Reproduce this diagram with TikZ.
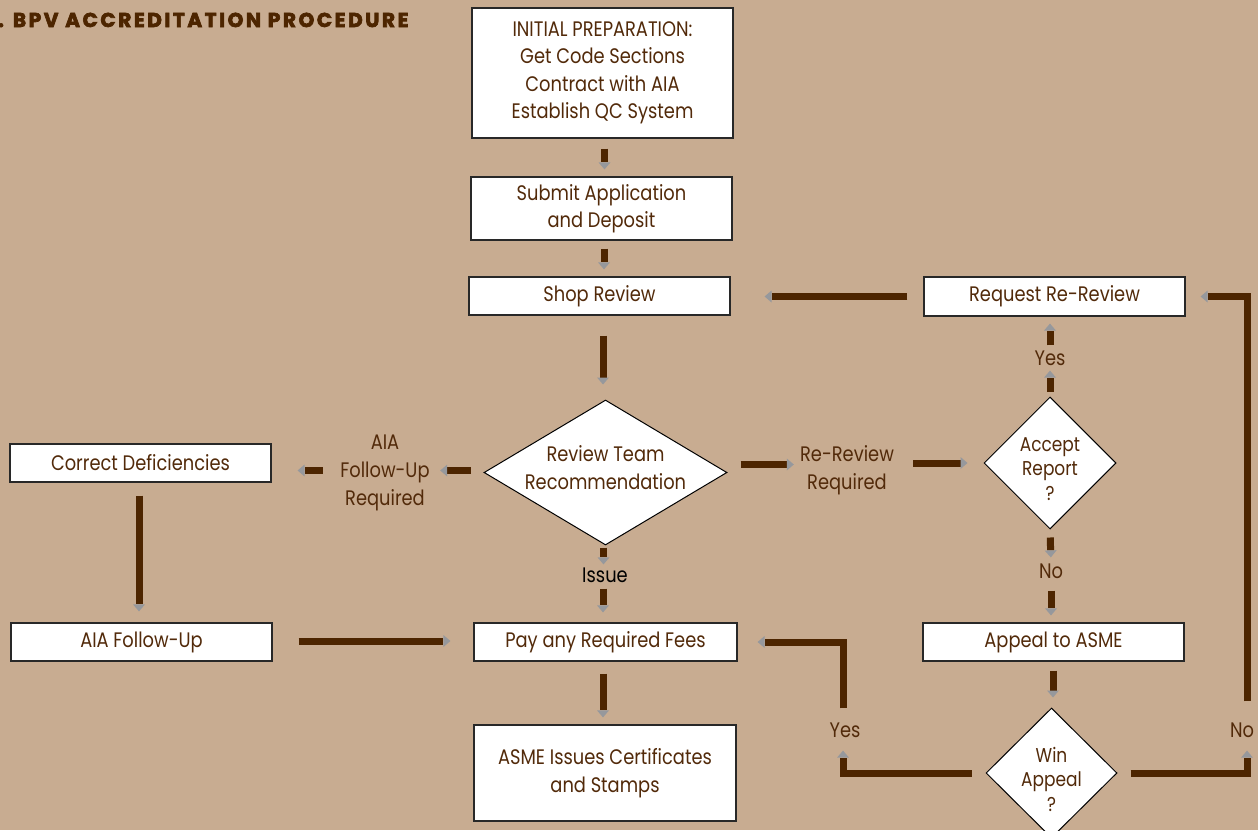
\documentclass[tikz,border=0pt]{standalone}
\usepackage{fontspec}
\setmainfont{Poppins}[FakeStretch=0.85]
\newfontfamily\titlefont{Poppins}[LetterSpace=13, BoldFeatures={FakeBold=3.5}]
\usetikzlibrary{arrows.meta,shapes.geometric}
\definecolor{bgtan}{RGB}{200,172,145}
\definecolor{linebrown}{RGB}{77,37,0}
\definecolor{txtbrown}{RGB}{82,42,10}
\definecolor{tipgray}{RGB}{150,152,156}
\definecolor{boxline}{RGB}{40,40,40}
\tikzset{
  box/.style={draw=boxline, line width=1.2pt, fill=white, text=txtbrown, align=center, inner sep=0pt,
    font=\fontsize{21}{27.5}\selectfont},
  dia/.style={diamond, draw=black, line width=1pt, fill=white, inner sep=0pt},
  lbl/.style={text=txtbrown, align=center, inner sep=0pt, font=\fontsize{21}{28}\selectfont},
  conn/.style={draw=linebrown, line width=7pt, line join=miter,
    -{Triangle[width=12pt,length=7pt,line width=0pt,color=tipgray]}},
}
\begin{document}
\begin{tikzpicture}[x=1pt,y=-1pt]
\fill[bgtan] (0,0) rectangle (1258,830);
\useasboundingbox (0,0) rectangle (1258,830);
% title
\node[anchor=base west, inner sep=0pt, text=linebrown, font=\titlefont\bfseries\fontsize{20}{20}\selectfont] (title) at (-2,27) {. BPV ACCREDITATION PROCEDURE};
% boxes
\node[box, minimum width=261pt, minimum height=130pt] (init) at (602.5,73) {INITIAL PREPARATION:\\Get Code Sections\\Contract with AIA\\Establish QC System};
\node[box, minimum width=261pt, minimum height=63pt] (submit) at (601.5,208.5) {Submit Application\\and Deposit};
\node[box, minimum width=261pt, minimum height=38pt] (shop) at (599.5,296) {Shop Review};
\node[box, minimum width=261pt, minimum height=39pt] (request) at (1054.5,296.5) {Request Re-Review};
\node[box, minimum width=261pt, minimum height=38pt] (correct) at (140.5,463) {Correct Deficiencies};
\node[box, minimum width=261pt, minimum height=38pt] (aiaf) at (141.5,642) {AIA Follow-Up};
\node[box, minimum width=263pt, minimum height=38pt] (pay) at (605.5,642) {Pay any Required Fees};
\node[box, minimum width=261pt, minimum height=38pt] (appeal) at (1053.5,642) {Appeal to ASME};
\node[box, minimum width=262pt, minimum height=96pt] (asme) at (605,773) {ASME Issues Certificates\\and Stamps};
% diamonds
\node[dia, minimum width=243pt, minimum height=145pt] (review) at (605.5,472.5) {};
\node[lbl] (reviewTxt) at (605.5,467.5) {Review Team\\Recommendation};
\node[dia, minimum width=132pt, minimum height=132pt] (accept) at (1050,463) {};
\node[lbl, font=\fontsize{20}{24.5}\selectfont] (acceptTxt) at (1050,469) {Accept\\Report\\?};
\node[dia, minimum width=131pt, minimum height=130pt] (win) at (1051.5,773) {};
\node[lbl, font=\fontsize{20}{24.5}\selectfont] (winTxt) at (1051.5,779) {Win\\Appeal\\?};
% labels
\node[lbl, text width=110pt] (lblAIA) at (385,473) {AIA\\Follow-Up\\Required};
\node[lbl, text width=100pt] (lblRe) at (847,470) {Re-Review\\Required};
\node[lbl, text=black] (lblIssue) at (605,575) {Issue};
\node[lbl] (lblYes) at (1050,358) {Yes};
\node[lbl] (lblNo) at (1051,571) {No};
\node[lbl] (lblYesB) at (845,730) {Yes};
\node[lbl] (lblNoB) at (1242,730) {No};
% connectors
\draw[conn, shorten <=10pt, shorten >=7pt] ([xshift=2pt]init.south) -- ([xshift=2pt]init.south |- submit.north);
\draw[conn, shorten <=8pt, shorten >=7pt] ([xshift=2.5pt]submit.south) -- ([xshift=2.5pt]submit.south |- shop.north);
\draw[conn, shorten <=20pt, shorten >=15pt] ([xshift=3.5pt]shop.south) -- ([xshift=3.5pt]shop.south |- review.north);
\draw[conn, shorten <=16pt, shorten >=34pt] (request.west) -- (request.west -| shop.east);
\draw[conn, shorten <=13pt, shorten >=0pt] ([yshift=2pt]review.west) -- ([yshift=2pt]review.west -| lblAIA.east);
\draw[conn, shorten <=7pt, shorten >=26pt] ([yshift=2pt]review.west -| lblAIA.west) -- ([yshift=2pt]review.west -| correct.east);
\draw[conn, shorten <=13pt, shorten >=3pt] ([yshift=8pt]review.east) -- ([yshift=8pt]review.east -| lblRe.west);
\draw[conn, shorten <=16pt, shorten >=16pt] (accept.west -| lblRe.east) -- (accept.west);
\draw[conn, shorten <=2pt, shorten >=3pt] ([xshift=-2pt]review.south) -- ([xshift=-2pt]review.south |- lblIssue.north);
\draw[conn, shorten <=6pt, shorten >=10pt] ([xshift=-2pt]lblIssue.south) -- ([xshift=-2pt]lblIssue.south |- pay.north);
\draw[conn, shorten <=5pt, shorten >=5pt] (accept.north) -- (lblYes.south);
\draw[conn, shorten <=5pt, shorten >=7pt] (lblYes.north) -- (lblYes.north |- request.south);
\draw[conn, shorten <=8pt, shorten >=6pt] (accept.south) -- (lblNo.north);
\draw[conn, shorten <=12pt, shorten >=7pt] (lblNo.south) -- (lblNo.south |- appeal.north);
\draw[conn, shorten <=13pt, shorten >=11pt] ([xshift=-1.5pt]correct.south) -- ([xshift=-1.5pt]correct.south |- aiaf.north);
\draw[conn, shorten <=26pt, shorten >=23pt] ([yshift=1pt]aiaf.east) -- ([yshift=1pt]aiaf.east -| pay.west);
\draw[conn, shorten <=12pt, shorten >=7pt] ([xshift=-2.5pt]pay.south) -- ([xshift=-2.5pt]pay.south |- asme.north);
\draw[conn, shorten <=9pt, shorten >=10pt] ([xshift=-0.5pt]appeal.south) -- ([xshift=-0.5pt]appeal.south |- win.north);
\draw[conn, shorten <=14pt, shorten >=13pt] (win.west) -| ([xshift=-2pt]lblYesB.south);
\draw[conn, shorten <=14pt, shorten >=20pt] ([xshift=-2pt]lblYesB.north) |- (pay.east);
\draw[conn, shorten <=13pt, shorten >=13pt] (win.east) -| ([xshift=5pt]lblNoB.south);
\draw[conn, shorten <=21pt, shorten >=15pt] ([xshift=5pt]lblNoB.north) |- (request.east);
\end{tikzpicture}
\end{document}
